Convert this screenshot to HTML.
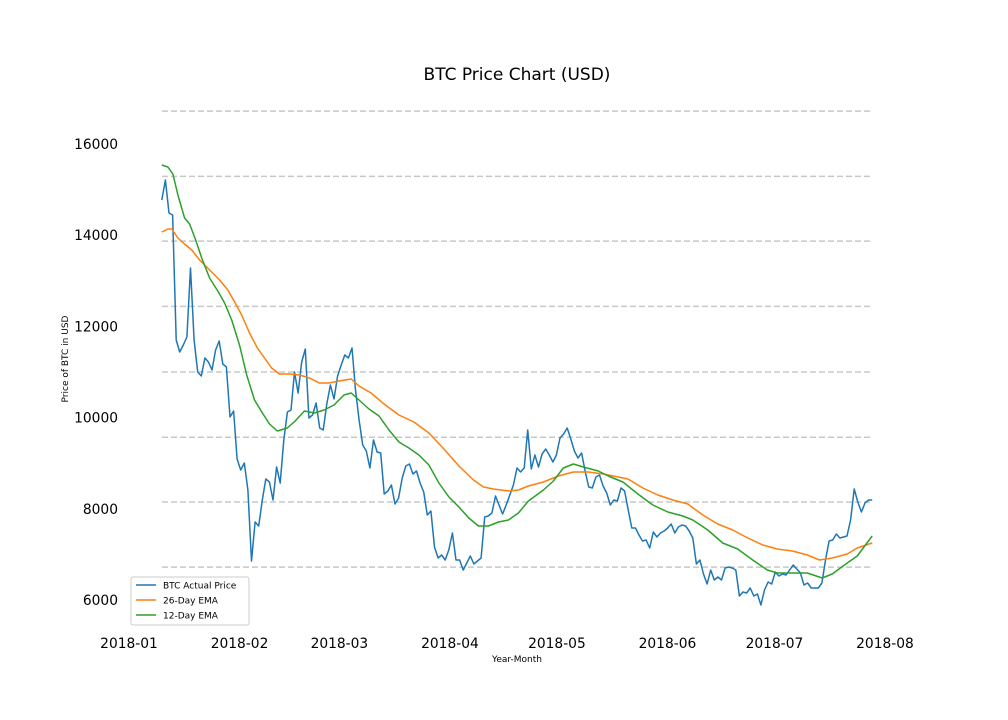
<!DOCTYPE html>
<html><head><meta charset="utf-8"><style>
html,body{margin:0;padding:0;background:#fff;}
svg{display:block;font-family:"DejaVu Sans","Liberation Sans",sans-serif;}
</style></head><body>
<svg id="chart" width="1008" height="720" viewBox="0 0 1008 720">
<text x="517" y="80" text-anchor="middle" font-size="17" fill="#000">BTC Price Chart (USD)</text>
<text x="0" y="0" transform="translate(68,359) rotate(-90)" text-anchor="middle" font-size="9">Price of BTC in USD</text>
<text x="517" y="662" text-anchor="middle" font-size="9">Year-Month</text>
<g id="grid"></g>
<g id="yticks"></g>
<g id="xticks"></g>
<g id="series"></g>
<g>
<rect x="131" y="577" width="118" height="48" rx="2" fill="#fff" stroke="#ccc"/>
<line x1="136" y1="585" x2="156" y2="585" stroke="#1f77b4" stroke-width="1.5"/>
<text x="163" y="588.5" font-size="9">BTC Actual Price</text>
<line x1="136" y1="600" x2="156" y2="600" stroke="#ff7f0e" stroke-width="1.5"/>
<text x="163" y="603.5" font-size="9">26-Day EMA</text>
<line x1="136" y1="615" x2="156" y2="615" stroke="#2ca02c" stroke-width="1.5"/>
<text x="163" y="618.5" font-size="9">12-Day EMA</text>
</g>
</svg>
<script>
const xTickLabels=["2018-01","2018-02","2018-03","2018-04","2018-05","2018-06","2018-07","2018-08"];
const xTickDays=[0,31,59,90,120,151,181,212];
const yTickValues=[6000,8000,10000,12000,14000,16000];
const gridValues=[16720,15290,13870,12440,11000,9570,8150,6720];
const priceStartDay=9.2;
const priceEndDay=208.4;
const prices=[14772,15211,14487,14443,11702,11439,11592,11768,13281,11702,11000,10912,11307,11219,11044,11483,11680,11175,11110,10013,10145,9092,8851,9005,8413,6855,7711,7623,8193,8654,8588,8193,8917,8566,9509,10123,10167,11000,10540,11219,11505,9991,10057,10320,9772,9728,10298,10715,10408,10912,11153,11373,11307,11527,10605,9947,9399,9268,8895,9509,9246,9224,8325,8391,8522,8105,8237,8676,8939,8983,8763,8829,8566,8369,7864,7952,7163,6921,6987,6877,7097,7470,6877,6877,6658,6811,6965,6789,6855,6921,7821,7842,7908,8281,8084,7886,8084,8303,8522,8895,8807,8895,9728,8873,9180,8917,9202,9312,9180,9026,9180,9553,9640,9772,9531,9268,9114,9224,8829,8478,8456,8698,8742,8500,8347,8084,8193,8171,8456,8391,7975,7579,7579,7426,7294,7316,7141,7492,7382,7470,7513,7579,7667,7470,7601,7645,7623,7513,7360,6790,6877,6570,6351,6658,6439,6504,6439,6702,6724,6702,6658,6088,6175,6153,6263,6088,6132,5891,6219,6395,6351,6614,6526,6570,6548,6658,6768,6680,6592,6329,6373,6263,6263,6263,6373,6877,7294,7316,7448,7360,7382,7404,7755,8435,8149,7930,8127,8193,8193];
const ema26Days=[9.2,10.9,12,13.7,15.6,17.6,19.8,22.6,25.4,27.7,29.6,31.6,33.8,36,38,40,42.2,45,47.8,50.6,53.4,56.1,58.9,62.3,64.5,67.9,71.5,75.7,79.9,84.1,88.3,92.5,96.6,99.4,102.2,106.4,109.2,112,116.2,120.4,124.6,128.8,133,137.2,139.9,144.1,148.3,152.5,156.7,160.9,165.1,169.3,173.5,177.7,181.8,186,190.2,193.6,197.2,201.4,204.2,208.4];
const ema26Values=[14070,14136,14136,13939,13807,13676,13456,13237,13018,12798,12535,12250,11855,11526,11307,11088,10956,10956,10934,10869,10759,10759,10803,10847,10693,10540,10298,10057,9904,9663,9312,8939,8632,8478,8434,8391,8413,8500,8588,8719,8807,8807,8763,8698,8654,8456,8303,8193,8105,7864,7667,7535,7360,7207,7119,7075,6987,6877,6921,7009,7141,7250];
const ema12Days=[9.2,10.9,12.3,13.7,15.6,17,18.7,20.4,22.6,24.9,26.8,28.8,31,33,35.2,37.4,39.4,41.6,44.4,46.6,49.2,52,54.7,57.5,60.3,62.3,64.5,67.3,70.1,72.9,75.7,78.5,81.3,84.1,86.9,89.7,92.5,95.3,98,100.8,103.6,106.4,109.2,112,116.2,119,121.8,124.6,127.4,131.6,134.4,138.5,142.7,146.9,151.1,155.3,158.1,162.3,166.5,170.7,174.9,179,181.8,186,190.2,194.4,197.2,201.4,204.2,208.4];
const ema12Values=[15540,15496,15342,14882,14377,14246,13895,13500,13062,12776,12513,12140,11592,10934,10386,10101,9860,9706,9772,9925,10145,10101,10167,10276,10496,10540,10386,10189,10035,9728,9465,9334,9180,8961,8566,8259,8040,7799,7623,7623,7711,7755,7908,8171,8413,8610,8895,8983,8917,8829,8719,8588,8325,8084,7930,7842,7755,7535,7250,7119,6877,6658,6592,6592,6592,6482,6570,6811,6965,7404];

const NS="http://www.w3.org/2000/svg";
function X(d){return 129+d*3.566;}
function Y(v){return 144+(16000-v)*0.0456;}
function mk(tag,attrs,parent){const e=document.createElementNS(NS,tag);for(const k in attrs)e.setAttribute(k,attrs[k]);parent.appendChild(e);return e;}
const grid=document.getElementById('grid');
gridValues.forEach(v=>{
  const l=mk('line',{x1:162,x2:872,y1:Y(v),y2:Y(v),stroke:'#c8c8c8','stroke-width':1.5,'stroke-dasharray':'6,3'},grid);
  
  
});
const yt=document.getElementById('yticks');
yTickValues.forEach(v=>{
  const t=mk('text',{x:118,y:Y(v)+5,'text-anchor':'end','font-size':13.8},yt);
  t.textContent=v;
  
  
});
const xt=document.getElementById('xticks');
xTickLabels.forEach((s,i)=>{
  const t=mk('text',{x:X(xTickDays[i]),y:648,'text-anchor':'middle','font-size':13.8},xt);
  t.textContent=s;
  
  
});
const ser=document.getElementById('series');
function poly(days,vals,color,name){
  const pts=days.map((d,i)=>X(d).toFixed(1)+','+Y(vals[i]).toFixed(1)).join(' ');
  const p=mk('polyline',{points:pts,fill:'none',stroke:color,'stroke-width':1.5,'stroke-linejoin':'round'},ser);
  
  
}
const step=(priceEndDay-priceStartDay)/(prices.length-1);
const priceDays=prices.map((_,i)=>priceStartDay+i*step);
poly(priceDays,prices,'#1f77b4','btc-price-line');
poly(ema26Days,ema26Values,'#ff7f0e','ema26-line');
poly(ema12Days,ema12Values,'#2ca02c','ema12-line');
</script>
</body></html>
